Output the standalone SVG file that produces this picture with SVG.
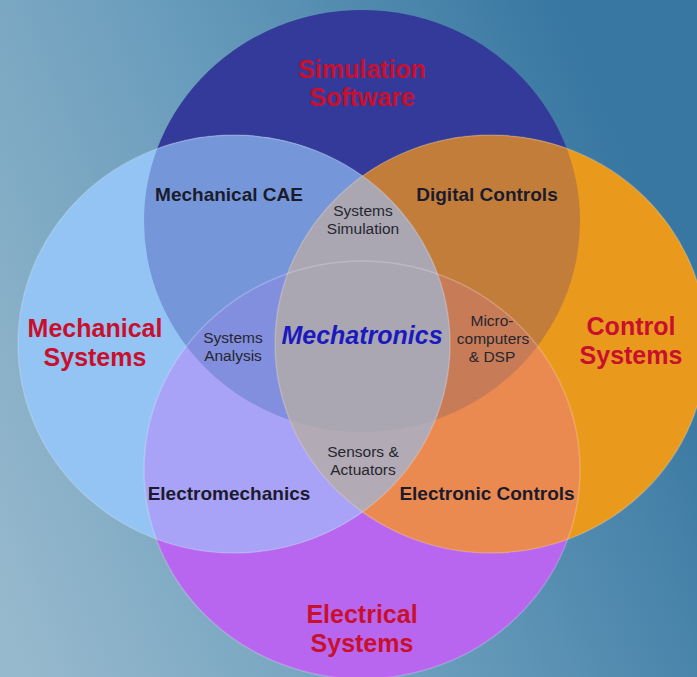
<svg xmlns="http://www.w3.org/2000/svg" width="697" height="677" viewBox="0 0 697 677">
<defs>
<linearGradient id="bg" gradientUnits="userSpaceOnUse" x1="0" y1="620" x2="697" y2="330">
<stop offset="0" stop-color="#97b9cd"/>
<stop offset="0.5" stop-color="#6a9dbc"/>
<stop offset="1" stop-color="#3877a1"/>
</linearGradient>
<clipPath id="cT"><ellipse cx="362" cy="221" rx="218" ry="211"/></clipPath>
<clipPath id="cL"><ellipse cx="234" cy="344" rx="216" ry="209"/></clipPath>
<clipPath id="cR"><ellipse cx="491" cy="344" rx="216" ry="209"/></clipPath>
<clipPath id="cB"><ellipse cx="362" cy="470" rx="218" ry="209"/></clipPath>
<style>
.big{font-family:"Liberation Sans",Arial,sans-serif;font-weight:bold;font-size:25px;fill:#c8102e;text-anchor:middle}
.mid{font-family:"Liberation Sans",Arial,sans-serif;font-weight:bold;font-size:19px;fill:#1b1b2c;text-anchor:middle}
.sm{font-family:"Liberation Sans",Arial,sans-serif;font-size:15.5px;fill:#26262f;text-anchor:middle}
.core{font-family:"Liberation Sans",Arial,sans-serif;font-weight:bold;font-style:italic;font-size:25px;fill:#1a1abf;text-anchor:middle}
.edge{fill:none;stroke:#ffffff;stroke-opacity:0.2;stroke-width:1.5}
</style>
</defs>
<rect width="697" height="677" fill="url(#bg)"/>
<g id="circles">
<ellipse id="simulation-software" cx="362" cy="221" rx="218" ry="211" fill="#343a99"/>
<ellipse id="electrical-systems" cx="362" cy="470" rx="218" ry="209" fill="#b866ef"/>
<ellipse id="mechanical-systems" cx="234" cy="344" rx="216" ry="209" fill="#93c4f3"/>
<ellipse id="control-systems" cx="491" cy="344" rx="216" ry="209" fill="#e99a1d"/>
</g>
<g id="overlaps">
<ellipse cx="234" cy="344" rx="216" ry="209" fill="#7597d9" clip-path="url(#cT)"/>
<ellipse cx="491" cy="344" rx="216" ry="209" fill="#c27d3b" clip-path="url(#cT)"/>
<ellipse cx="234" cy="344" rx="216" ry="209" fill="#a9a3f8" clip-path="url(#cB)"/>
<ellipse cx="491" cy="344" rx="216" ry="209" fill="#ea8a51" clip-path="url(#cB)"/>
<g clip-path="url(#cT)"><ellipse cx="234" cy="344" rx="216" ry="209" fill="#828fde" clip-path="url(#cB)"/></g>
<g clip-path="url(#cT)"><ellipse cx="491" cy="344" rx="216" ry="209" fill="#c77c57" clip-path="url(#cB)"/></g>
<ellipse cx="234" cy="344" rx="216" ry="209" fill="#b2aab4" clip-path="url(#cR)"/>
<g clip-path="url(#cT)"><ellipse cx="234" cy="344" rx="216" ry="209" fill="#aaa7b3" clip-path="url(#cR)"/></g>
</g>
<g id="edges">
<ellipse class="edge" cx="362" cy="470" rx="218" ry="209"/>
<ellipse class="edge" cx="234" cy="344" rx="216" ry="209"/>
<ellipse class="edge" cx="491" cy="344" rx="216" ry="209"/>
</g>
<g id="label-simulation-software"><text class="big" x="362" y="78">Simulation</text><text class="big" x="362" y="106">Software</text></g>
<g id="label-mechanical-systems"><text class="big" x="95" y="337">Mechanical</text><text class="big" x="95" y="366">Systems</text></g>
<g id="label-control-systems"><text class="big" x="631" y="335">Control</text><text class="big" x="631" y="364">Systems</text></g>
<g id="label-electrical-systems"><text class="big" x="362" y="623">Electrical</text><text class="big" x="362" y="652">Systems</text></g>
<g id="label-mechanical-cae"><text class="mid" x="229" y="201">Mechanical CAE</text></g>
<g id="label-digital-controls"><text class="mid" x="487" y="201">Digital Controls</text></g>
<g id="label-electromechanics"><text class="mid" x="229" y="500">Electromechanics</text></g>
<g id="label-electronic-controls"><text class="mid" x="487" y="500">Electronic Controls</text></g>
<g id="label-systems-simulation"><text class="sm" x="363" y="216">Systems</text><text class="sm" x="363" y="234">Simulation</text></g>
<g id="label-systems-analysis"><text class="sm" x="233" y="343">Systems</text><text class="sm" x="233" y="361">Analysis</text></g>
<g id="label-microcomputers"><text class="sm" x="492" y="326">Micro-</text><text class="sm" x="493" y="344">computers</text><text class="sm" x="492" y="362">&amp; DSP</text></g>
<g id="label-sensors-actuators"><text class="sm" x="363" y="457">Sensors &amp;</text><text class="sm" x="363" y="475">Actuators</text></g>
<g id="label-mechatronics"><text class="core" x="362" y="344">Mechatronics</text></g>
</svg>
